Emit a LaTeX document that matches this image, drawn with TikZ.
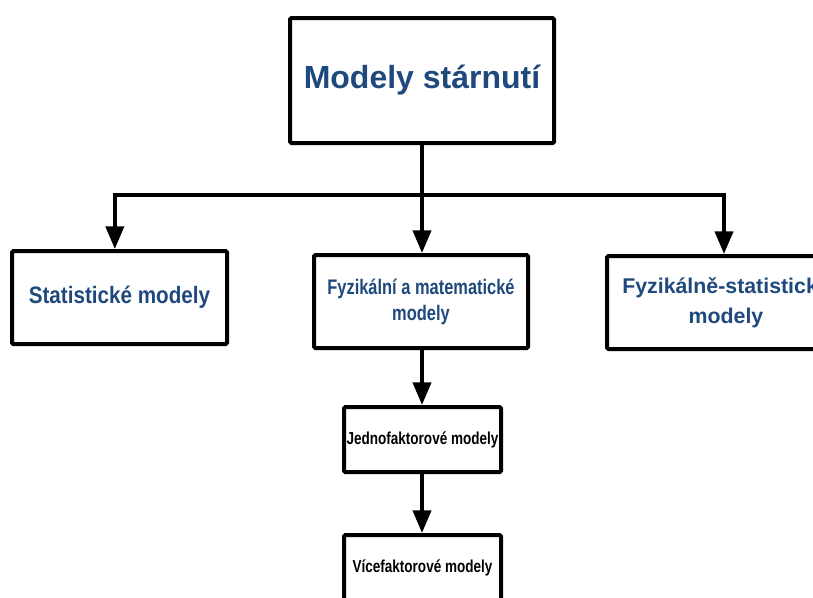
\documentclass[tikz,border=0pt]{standalone}
\usepackage{fontspec}
\setmainfont{Liberation Sans}
\newfontfamily\semifont[FakeStretch=0.87]{Liberation Sans}
\newfontfamily\narrowfont[FakeStretch=0.78]{Liberation Sans}
\usetikzlibrary{arrows.meta, positioning}
\definecolor{cblue}{HTML}{1F497D}
\tikzset{
  every picture/.style={line width=3pt},
  box/.style={draw=black, fill=white, rounded corners=1pt, align=center, inner sep=0pt},
  arrow/.style={-{Triangle[length=17pt, width=13.5pt]}, draw=black, line width=3pt},
  title/.style={font=\bfseries\fontsize{24}{28}\selectfont, text=cblue},
  label/.style={font=\narrowfont\bfseries\fontsize{15.8}{19.5}\selectfont, text=cblue},
  small/.style={font=\narrowfont\bfseries\fontsize{13}{15}\selectfont, text=black},
}

\begin{document}
\begin{tikzpicture}[x=0.75pt, y=-0.75pt]
  \clip (0,0) rectangle (813,597);
  % root
  \node[box, title, minimum width=198pt, minimum height=93.75pt] (root) at (422,80.5) {Modely stárnutí};
  % three model families
  \node[box, font=\semifont\bfseries\fontsize{17.8}{21}\selectfont, text=cblue,
        minimum width=161.25pt, minimum height=69.75pt] (stat) at (119.5,297.5) {Statistické modely};
  \node[box, label, minimum width=160.5pt, minimum height=69.75pt] (phys) at (421,301.5) {Fyzikální a matematické\\modely};
  \node[box, font=\bfseries\fontsize{16}{22.5}\selectfont, text=cblue,
        minimum width=178.5pt, minimum height=69.75pt] (physstat) at (726,302.5) {Fyzikálně-statistické\\modely};
  % sub models
  \node[box, small, minimum width=117.75pt, minimum height=48.75pt] (single) at (422.5,439.5) {Jednofaktorové modely};
  \node[box, small, minimum width=117.75pt, minimum height=48.75pt] (multi) at (422.5,567.5) {Vícefaktorové modely};
  % connectors
  \draw (root.south) -- ++(0,50) coordinate (split);
  \draw[arrow] (split) -| ([xshift=-3.5]stat.north);
  \draw[arrow] (split) -- (phys.north -| split);
  \draw[arrow] (split) -| ([xshift=-1.5]physstat.north);
  \draw[arrow] (phys.south -| split) -- (single.north -| split);
  \draw[arrow] (single.south -| split) -- (multi.north -| split);
\end{tikzpicture}
\end{document}
